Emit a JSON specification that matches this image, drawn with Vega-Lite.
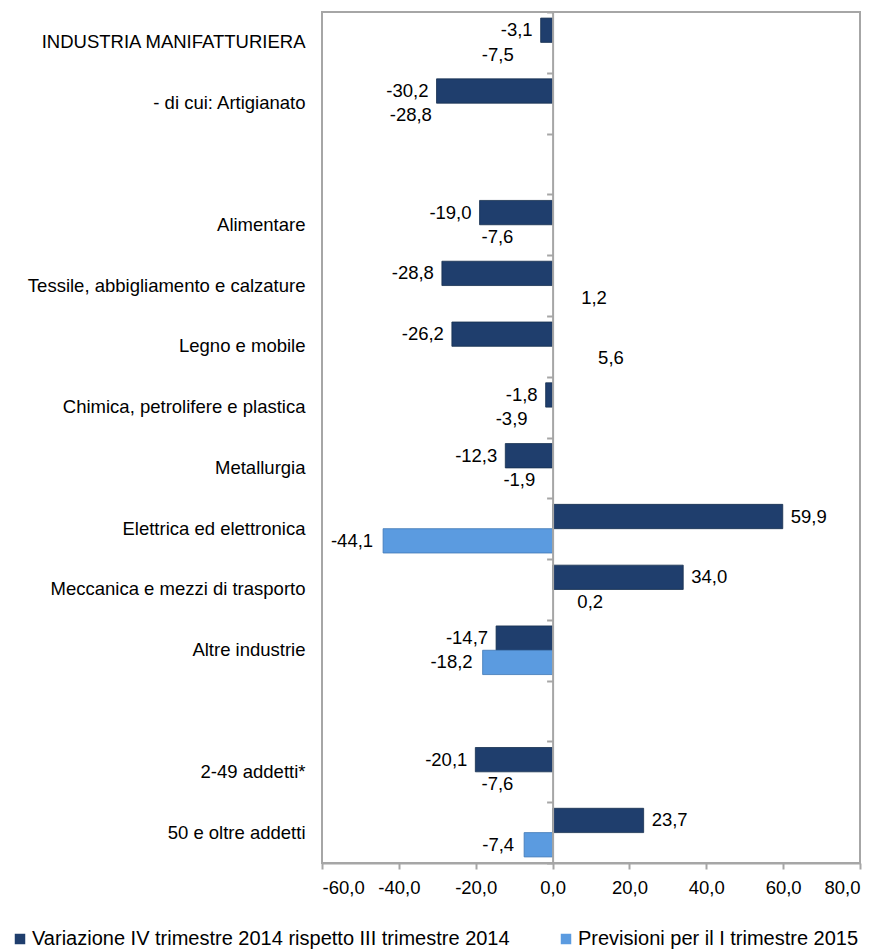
{
  "$schema": "https://vega.github.io/schema/vega-lite/v6.json",
  "width": 538,
  "height": 851,
  "autosize": {"type": "none"},
  "padding": {"left": 322, "top": 12, "right": 17, "bottom": 86},
  "background": "white",
  "config": {
    "font": "Liberation Sans",
    "view": {"stroke": "#a6a6a6", "strokeWidth": 2},
    "locale": {"number": {"decimal": ",", "thousands": ".", "grouping": [3], "currency": ["€", ""], "minus": "-"}}
  },
  "data": {
    "values": [
      {"categoria": "INDUSTRIA MANIFATTURIERA", "serie": "Variazione IV trimestre 2014 rispetto III trimestre 2014", "valore": -3.1},
      {"categoria": "INDUSTRIA MANIFATTURIERA", "serie": "Previsioni per il I trimestre 2015", "valore": -7.5},
      {"categoria": "- di cui: Artigianato", "serie": "Variazione IV trimestre 2014 rispetto III trimestre 2014", "valore": -30.2},
      {"categoria": "- di cui: Artigianato", "serie": "Previsioni per il I trimestre 2015", "valore": -28.8},
      {"categoria": "Alimentare", "serie": "Variazione IV trimestre 2014 rispetto III trimestre 2014", "valore": -19.0},
      {"categoria": "Alimentare", "serie": "Previsioni per il I trimestre 2015", "valore": -7.6},
      {"categoria": "Tessile, abbigliamento e calzature", "serie": "Variazione IV trimestre 2014 rispetto III trimestre 2014", "valore": -28.8},
      {"categoria": "Tessile, abbigliamento e calzature", "serie": "Previsioni per il I trimestre 2015", "valore": 1.2},
      {"categoria": "Legno e mobile", "serie": "Variazione IV trimestre 2014 rispetto III trimestre 2014", "valore": -26.2},
      {"categoria": "Legno e mobile", "serie": "Previsioni per il I trimestre 2015", "valore": 5.6},
      {"categoria": "Chimica, petrolifere e plastica", "serie": "Variazione IV trimestre 2014 rispetto III trimestre 2014", "valore": -1.8},
      {"categoria": "Chimica, petrolifere e plastica", "serie": "Previsioni per il I trimestre 2015", "valore": -3.9},
      {"categoria": "Metallurgia", "serie": "Variazione IV trimestre 2014 rispetto III trimestre 2014", "valore": -12.3},
      {"categoria": "Metallurgia", "serie": "Previsioni per il I trimestre 2015", "valore": -1.9},
      {"categoria": "Elettrica ed elettronica", "serie": "Variazione IV trimestre 2014 rispetto III trimestre 2014", "valore": 59.9},
      {"categoria": "Elettrica ed elettronica", "serie": "Previsioni per il I trimestre 2015", "valore": -44.1},
      {"categoria": "Meccanica e mezzi di trasporto", "serie": "Variazione IV trimestre 2014 rispetto III trimestre 2014", "valore": 34.0},
      {"categoria": "Meccanica e mezzi di trasporto", "serie": "Previsioni per il I trimestre 2015", "valore": 0.2},
      {"categoria": "Altre industrie", "serie": "Variazione IV trimestre 2014 rispetto III trimestre 2014", "valore": -14.7},
      {"categoria": "Altre industrie", "serie": "Previsioni per il I trimestre 2015", "valore": -18.2},
      {"categoria": "2-49 addetti*", "serie": "Variazione IV trimestre 2014 rispetto III trimestre 2014", "valore": -20.1},
      {"categoria": "2-49 addetti*", "serie": "Previsioni per il I trimestre 2015", "valore": -7.6},
      {"categoria": "50 e oltre addetti", "serie": "Variazione IV trimestre 2014 rispetto III trimestre 2014", "valore": 23.7},
      {"categoria": "50 e oltre addetti", "serie": "Previsioni per il I trimestre 2015", "valore": -7.4}
    ]
  },
  "encoding": {
    "y": {
      "field": "categoria",
      "type": "nominal",
      "scale": {
        "domain": ["INDUSTRIA MANIFATTURIERA", "- di cui: Artigianato", " ", "Alimentare", "Tessile, abbigliamento e calzature", "Legno e mobile", "Chimica, petrolifere e plastica", "Metallurgia", "Elettrica ed elettronica", "Meccanica e mezzi di trasporto", "Altre industrie", "  ", "2-49 addetti*", "50 e oltre addetti"],
        "paddingInner": 0,
        "paddingOuter": 0
      },
      "axis": null
    },
    "yOffset": {
      "field": "serie",
      "type": "nominal",
      "scale": {"domain": ["Variazione IV trimestre 2014 rispetto III trimestre 2014", "Previsioni per il I trimestre 2015"], "paddingInner": 0, "paddingOuter": 0.25}
    },
    "x": {
      "field": "valore",
      "type": "quantitative",
      "scale": {"domain": [-60, 80], "nice": false, "zero": false},
      "axis": {"title": null, "values": [-60, -40, -20, 0, 20, 40, 60, 80], "format": ".1f", "grid": false, "domainColor": "#a6a6a6", "domainWidth": 2, "tickColor": "#a6a6a6", "tickWidth": 2, "tickSize": 6, "labelFontSize": 18.5, "labelColor": "#000000", "labelPadding": 9}
    }
  },
  "layer": [
    {
      "transform": [{"filter": "indexof(datum.serie, 'Variazione') == 0"}],
      "mark": {"type": "bar", "stroke": "#17304f", "strokeWidth": 0.8},
      "encoding": {
        "y": {
          "field": "categoria", "type": "nominal",
          "axis": {"title": null, "orient": "left", "ticks": false, "domain": false, "labelFontSize": 18.5, "labelColor": "#000000", "labelPadding": 17, "labelLimit": 320}
        },
        "color": {
          "field": "serie", "type": "nominal",
          "scale": {"domain": ["Variazione IV trimestre 2014 rispetto III trimestre 2014", "Previsioni per il I trimestre 2015"], "range": ["#1f3e6d", "#5b9be0"]},
          "legend": {"title": null, "orient": "none", "legendX": -312, "legendY": 917, "direction": "horizontal", "symbolType": "square", "symbolSize": 110, "symbolStrokeWidth": 0, "labelFontSize": 20, "labelColor": "#000000", "columnPadding": 46, "labelLimit": 600, "labelOffset": 2}
        }
      }
    },
    {
      "transform": [{"filter": "indexof(datum.serie, 'Previsioni') == 0 && indexof(['Elettrica ed elettronica', 'Altre industrie', '50 e oltre addetti'], datum.categoria) >= 0"}],
      "mark": {"type": "bar", "stroke": "#3f77b5", "strokeWidth": 0.8},
      "encoding": {
        "y": {
          "field": "categoria", "type": "nominal",
          "axis": {"title": null, "orient": "left", "labels": false, "offset": -230.6, "domainColor": "#a6a6a6", "domainWidth": 2, "tickColor": "#a6a6a6", "tickWidth": 2, "tickSize": 6, "tickBand": "extent", "zindex": 1}
        },
        "color": {"field": "serie", "type": "nominal"}
      }
    },
    {
      "transform": [{"filter": "indexof(datum.serie, 'Variazione') == 0 && datum.valore < 0"}],
      "mark": {"type": "text", "align": "right", "baseline": "middle", "dx": -8, "fontSize": 18.5, "color": "#000000"},
      "encoding": {"text": {"field": "valore", "type": "quantitative", "format": ".1f"}}
    },
    {
      "transform": [{"filter": "indexof(datum.serie, 'Variazione') == 0 && datum.valore >= 0"}],
      "mark": {"type": "text", "align": "left", "baseline": "middle", "dx": 8, "fontSize": 18.5, "color": "#000000"},
      "encoding": {"text": {"field": "valore", "type": "quantitative", "format": ".1f"}}
    },
    {
      "transform": [{"filter": "indexof(datum.serie, 'Previsioni') == 0 && datum.valore < 0"}],
      "mark": {"type": "text", "align": "right", "baseline": "middle", "dx": -10, "fontSize": 18.5, "color": "#000000"},
      "encoding": {"text": {"field": "valore", "type": "quantitative", "format": ".1f"}}
    },
    {
      "transform": [{"filter": "indexof(datum.serie, 'Previsioni') == 0 && datum.valore >= 0"}],
      "mark": {"type": "text", "align": "left", "baseline": "middle", "dx": 24, "fontSize": 18.5, "color": "#000000"},
      "encoding": {"text": {"field": "valore", "type": "quantitative", "format": ".1f"}}
    }
  ],
  "resolve": {"axis": {"y": "independent"}}
}
